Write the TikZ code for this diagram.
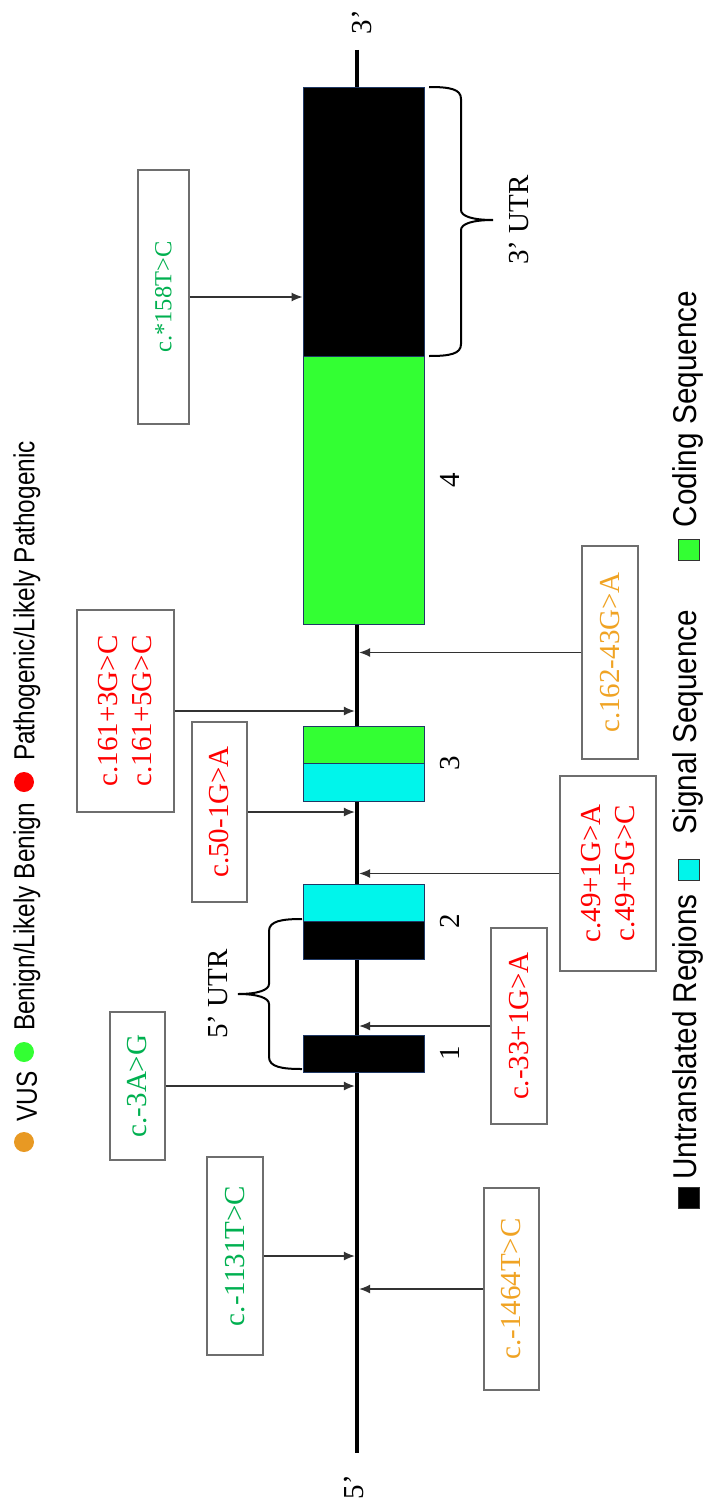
\documentclass[tikz,border=0pt]{standalone}
\usepackage{fontspec}
\setmainfont{Liberation Serif}
\newfontfamily\legfont[FakeStretch=0.9]{Liberation Sans}
\newfontfamily\legfontn[FakeStretch=0.84]{Liberation Sans}
\usetikzlibrary{arrows.meta}
\definecolor{vgreen}{RGB}{0,176,80}
\definecolor{vred}{RGB}{255,0,0}
\definecolor{vorange}{RGB}{240,163,35}
\definecolor{dotorange}{RGB}{232,153,35}
\definecolor{exgreen}{RGB}{51,255,51}
\definecolor{excyan}{RGB}{0,245,235}
\definecolor{exedge}{RGB}{31,56,100}
\definecolor{boxedge}{RGB}{110,110,110}
\definecolor{arrowc}{RGB}{50,50,50}
\begin{document}
\begin{tikzpicture}[x=1pt,y=-1pt,
  varbox/.style={draw=boxedge, line width=1.3pt, fill=white, rotate=90, inner sep=0pt, align=center, font=\fontsize{29}{34}\selectfont},
  exon/.style={draw=exedge, line width=1pt, inner sep=0pt, minimum width=121pt},
  conn/.style={draw=arrowc, line width=1.2pt, -{Latex[length=11pt,width=9pt]}},
  lab/.style={rotate=90, inner sep=0pt, font=\fontsize{29}{34}\selectfont},
  legtext/.style={rotate=90, inner sep=0pt, font=\legfontn\fontsize{29}{33}\selectfont},
  legtextb/.style={rotate=90, inner sep=0pt, font=\legfont\fontsize{33}{38}\selectfont},
  legdot/.style={circle, inner sep=0pt, minimum size=20pt},
  legsq/.style={draw=black!80, line width=0.8pt, inner sep=0pt, minimum size=21pt},
  utrbrace/.style={line width=2pt}
]
\useasboundingbox (0,0) rectangle (713,1504);

% main gene line
\coordinate (Lt) at (357,50);
\coordinate (Lb) at (357,1453);
\draw[line width=4.5pt] (Lt) -- (Lb);
\node[lab] (p3) at (362,22) {3’};
\node[lab] (p5) at (354,1487) {5’};

% exons
\node[exon, fill=black,   minimum height=269pt] (e4u) at (363.5,221.5) {};
\node[exon, fill=exgreen, minimum height=268pt] (e4c) at (363.5,490) {};
\node[exon, fill=exgreen, minimum height=37pt]  (e3c) at (363.5,744.5) {};
\node[exon, fill=excyan,  minimum height=38pt]  (e3s) at (363.5,782) {};
\node[exon, fill=excyan,  minimum height=37pt]  (e2s) at (363.5,902.5) {};
\node[exon, fill=black,   minimum height=38pt]  (e2u) at (363.5,940) {};
\node[exon, fill=black,   minimum height=37pt]  (e1u) at (363.5,1053.5) {};

% exon numbers
\node[lab] (n1) at (450,1053) {1};
\node[lab] (n2) at (450,921) {2};
\node[lab] (n3) at (450,763) {3};
\node[lab] (n4) at (450,480) {4};

% braces
\draw[utrbrace] (302,919) .. controls (282,919) and (269,921) .. (269,931) -- (269,984)
  .. controls (269,990) and (258,994) .. (238,994)
  .. controls (258,994) and (269,998) .. (269,1004) -- (269,1057)
  .. controls (269,1067) and (282,1069) .. (302,1069);
\node[lab] (utr5) at (218,994) {5’ UTR};
\draw[utrbrace] (429,87) .. controls (450,87) and (461,89) .. (461,99) -- (461,210)
  .. controls (461,216) and (472,220) .. (493,220)
  .. controls (472,220) and (461,224) .. (461,230) -- (461,344)
  .. controls (461,354) and (450,356) .. (429,356);
\node[lab] (utr3) at (519,220) {3’ UTR};

% variant boxes (left side)
\node[varbox, text=vgreen, minimum width=254pt, minimum height=51pt, font=\fontsize{24.5}{29}\selectfont] (v158) at (163.5,297) {c.*158T>C};
\node[varbox, text=vred, minimum width=202pt, minimum height=97pt] (v161) at (125.5,711) {c.161+3G>C\\c.161+5G>C};
\node[varbox, text=vred, minimum width=180pt, minimum height=55pt] (v50) at (219.5,812) {c.50-1G>A};
\node[varbox, text=vgreen, minimum width=148pt, minimum height=55pt] (v3) at (137.5,1086) {c.-3A>G};
\node[varbox, text=vgreen, minimum width=198pt, minimum height=56pt] (v1131) at (235,1256) {c.-1131T>C};

% variant boxes (right side)
\node[varbox, text=vorange, minimum width=213pt, minimum height=56pt] (v162) at (610,652.5) {c.162-43G>A};
\node[varbox, text=vred, minimum width=195pt, minimum height=96pt] (v49) at (608,873.5) {c.49+1G>A\\c.49+5G>C};
\node[varbox, text=vred, minimum width=196pt, minimum height=56pt] (v33) at (519,1026) {c.-33+1G>A};
\node[varbox, text=vorange, minimum width=202pt, minimum height=55pt] (v1464) at (511.5,1289) {c.-1464T>C};

% connectors
\draw[conn] (v158.south) -- (v158.south -| e4u.west);
\draw[conn, shorten >=2.2pt] (v161.south) -- (v161.south -| Lt);
\draw[conn, shorten >=2.2pt] (v50.south) -- (v50.south -| Lt);
\draw[conn, shorten >=2.2pt] (v3.south) -- (v3.south -| Lt);
\draw[conn, shorten >=2.2pt] (v1131.south) -- (v1131.south -| Lt);
\draw[conn, shorten >=2.2pt] (v162.north) -- (v162.north -| Lt);
\draw[conn, shorten >=2.2pt] (v49.north) -- (v49.north -| Lt);
\draw[conn, shorten >=2.2pt] (v33.north) -- (v33.north -| Lt);
\draw[conn, shorten >=2.2pt] (v1464.north) -- (v1464.north -| Lt);

% legend (left)
\node[legdot, fill=dotorange] (dvus) at (24,1142) {};
\node[legtext, anchor=west] (tvus) at (27,1122) {VUS};
\node[legdot, fill=exgreen] (dben) at (24,1052) {};
\node[legtext, anchor=west] (tben) at (27,1031) {Benign/Likely Benign};
\node[legdot, fill=vred] (dpat) at (24,782) {};
\node[legtext, anchor=west] (tpat) at (27,761) {Pathogenic/Likely Pathogenic};

% legend (right)
\node[legsq, fill=black] (squ) at (689,1198) {};
\node[legtextb] (tu) at (688,1037) {Untranslated Regions};
\node[legsq, fill=excyan] (sqs) at (689,870) {};
\node[legtextb] (ts) at (688,722) {Signal Sequence};
\node[legsq, fill=exgreen] (sqc) at (689,550) {};
\node[legtextb] (tc) at (688,409) {Coding Sequence};
\end{tikzpicture}
\end{document}
